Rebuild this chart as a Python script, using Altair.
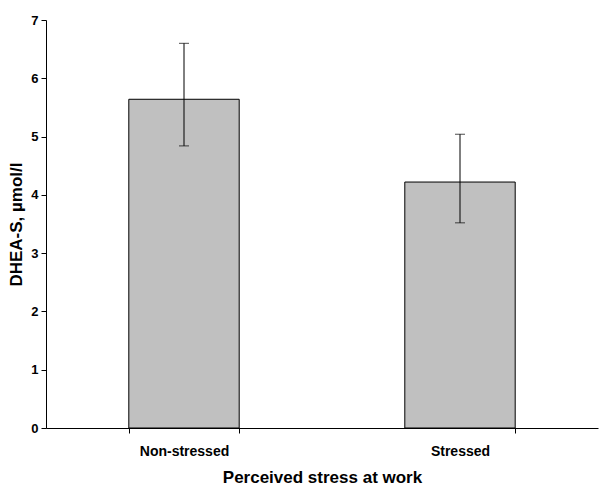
import altair as alt
import pandas as pd

categories = ["Non-stressed", "Stressed"]
means = [5.64, 4.22]
lower = [4.84, 3.52]
upper = [6.60, 5.04]

df = pd.DataFrame({"group": categories, "mean": means, "lo": lower, "hi": upper})

font = "Liberation Sans"

xenc = alt.X(
    "group:N",
    sort=categories,
    scale=alt.Scale(paddingInner=0.6, paddingOuter=0.3),
    axis=alt.Axis(
        title="Perceived stress at work",
        titleFont=font, titleFontSize=17, titleFontWeight="bold", titleColor="black",
        titlePadding=11,
        labelFont=font, labelFontSize=14, labelFontWeight="bold", labelColor="black",
        labelAngle=0, labelPadding=11,
        tickBand="extent", tickSize=5, tickColor="black", domainColor="black",
        grid=False,
    ),
)

yscale = alt.Scale(domain=[0, 7])
yaxis = alt.Axis(
    title="DHEA-S, µmol/l",
    titleFont=font, titleFontSize=17, titleFontWeight="bold", titleColor="black",
    titlePadding=5,
    labelFont=font, labelFontSize=13, labelFontWeight="bold", labelColor="black",
    values=[0, 1, 2, 3, 4, 5, 6, 7], format="d", tickSize=5, tickColor="black", domainColor="black",
    grid=False, labelPadding=3,
)

base = alt.Chart(df)

bars = base.mark_bar(color="#c0c0c0", stroke="black", strokeWidth=1).encode(
    x=xenc,
    y=alt.Y("mean:Q", scale=yscale, axis=yaxis),
)

rules = base.mark_rule(color="black", strokeWidth=1).encode(
    x=alt.X("group:N", sort=categories),
    y="lo:Q",
    y2="hi:Q",
)

cap_lo = base.mark_tick(color="black", size=10, thickness=1, orient="horizontal").encode(
    x=alt.X("group:N", sort=categories),
    y="lo:Q",
)
cap_hi = base.mark_tick(color="black", size=10, thickness=1, orient="horizontal").encode(
    x=alt.X("group:N", sort=categories),
    y="hi:Q",
)

chart = (
    alt.layer(bars, rules, cap_lo, cap_hi)
    .properties(
        width=552,
        height=408,
        autosize=alt.AutoSizeParams(type="none"),
        padding={"left": 38, "top": 12, "right": 1, "bottom": 59},
        background="white",
    )
    .configure_view(stroke=None)
)

chart.save("out.html", embed_options={"renderer": "svg", "actions": False})
